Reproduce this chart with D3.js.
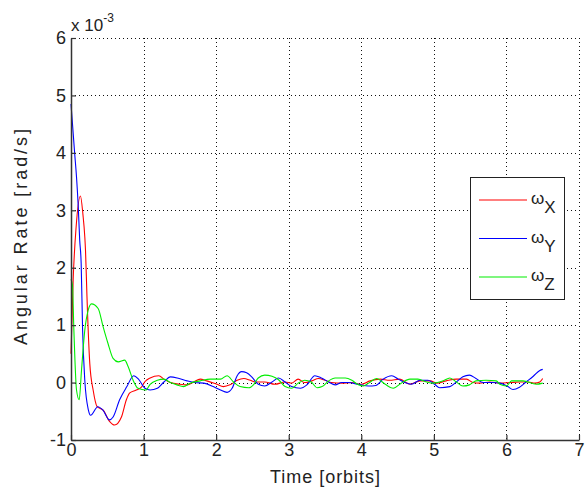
<!DOCTYPE html>
<html><head><meta charset="utf-8">
<script src="https://cdn.jsdelivr.net/npm/d3@7"></script>
<style>body{margin:0;background:#fff}svg{display:block}text{font-family:"Liberation Sans",Arial,sans-serif;fill:#222}</style>
</head><body><svg id="c" width="588" height="487"></svg>
<script>
// time [orbits], angular rate [x1e-3 rad/s]
const seriesNames = ["X","Y","Z"];
const seriesColors = ["#ff0000","#0000ff","#00ee00"];
const xTicks = [0,1,2,3,4,5,6,7];
const yTicks = [-1,0,1,2,3,4,5,6];
const omegaX = [[0,0.5],[0.03,1.8],[0.07,2.7],[0.13,3.25],[0.165,2.92],[0.19,2.54],[0.2,2.3],[0.22,1.5],[0.259,0.33],[0.305,-0.13],[0.36,-0.42],[0.443,-0.48],[0.534,-0.68],[0.6,-0.74],[0.695,-0.6],[0.763,-0.3],[0.81,-0.18],[0.9,-0.13],[0.97,-0.08],[1.015,0.01],[1.09,0.08],[1.21,0.12],[1.28,0.06],[1.37,0],[1.5,-0.03],[1.6,-0.04],[1.69,0.01],[1.78,0.06],[1.87,0.03],[2.01,-0.03],[2.1,-0.07],[2.19,-0.04],[2.29,0.04],[2.38,0.07],[2.47,0.04],[2.54,0.01],[2.67,0.01],[2.81,-0.03],[2.95,0.01],[3.04,-0.01],[3.13,0.06],[3.22,0],[3.32,0.03],[3.41,0.07],[3.5,0.04],[3.59,0],[3.73,-0.01],[3.87,0],[4.0,-0.03],[4.12,0.03],[4.26,0.06],[4.39,0.04],[4.53,0.06],[4.67,-0.03],[4.81,0.03],[4.95,0.03],[5.04,-0.01],[5.17,0.03],[5.31,0.06],[5.45,0.06],[5.54,0],[5.63,-0.01],[5.77,0.01],[5.91,-0.01],[6.05,0],[6.18,0.01],[6.3,0.01],[6.39,-0.01],[6.46,0.01],[6.5,0.07]];
const omegaY = [[0,4.85],[0.03,4.34],[0.05,4.0],[0.076,3.58],[0.1,3.06],[0.12,2.48],[0.14,2.08],[0.16,0.91],[0.19,0.04],[0.24,-0.48],[0.27,-0.57],[0.37,-0.42],[0.44,-0.48],[0.53,-0.65],[0.58,-0.6],[0.67,-0.3],[0.77,-0.07],[0.864,0.12],[0.93,0.06],[1.02,-0.1],[1.09,-0.13],[1.19,-0.1],[1.28,0.01],[1.37,0.1],[1.49,0.07],[1.6,0.03],[1.71,0],[1.83,-0.01],[1.96,-0.07],[2.06,-0.13],[2.15,-0.17],[2.22,-0.1],[2.29,0.12],[2.35,0.19],[2.42,0.17],[2.49,0.1],[2.58,-0.03],[2.67,-0.06],[2.77,0.01],[2.86,0.08],[2.95,0.01],[3.04,-0.07],[3.16,-0.1],[3.25,-0.04],[3.36,0.12],[3.45,0.08],[3.55,0.01],[3.64,-0.04],[3.73,0],[3.82,0],[3.96,-0.03],[4.1,-0.06],[4.2,-0.05],[4.3,0.06],[4.42,0.12],[4.51,0.06],[4.6,0],[4.69,-0.03],[4.81,0.04],[4.92,0.04],[5.01,-0.03],[5.08,-0.09],[5.22,-0.07],[5.31,0.01],[5.4,0.1],[5.49,0.13],[5.58,0.07],[5.68,0],[5.81,0],[5.91,-0.01],[6.02,-0.07],[6.09,-0.12],[6.18,-0.08],[6.27,0.01],[6.37,0.11],[6.46,0.21],[6.5,0.23]];
const omegaZ = [[0,1.8],[0.02,1.7],[0.04,0.9],[0.076,-0.13],[0.113,-0.3],[0.145,0.22],[0.19,0.91],[0.237,1.26],[0.282,1.37],[0.374,1.29],[0.443,0.97],[0.51,0.68],[0.58,0.42],[0.65,0.36],[0.74,0.39],[0.787,0.28],[0.856,0.04],[0.924,-0.1],[1.03,-0.13],[1.09,-0.03],[1.19,0.04],[1.28,0.06],[1.37,0],[1.46,-0.04],[1.55,-0.07],[1.64,-0.01],[1.78,0.03],[1.92,0.06],[2.06,0.06],[2.15,0.12],[2.24,0.01],[2.33,-0.07],[2.45,-0.09],[2.52,-0.03],[2.58,0.08],[2.67,0.13],[2.77,0.11],[2.86,0.05],[2.95,-0.07],[3.04,-0.1],[3.13,-0.01],[3.22,0.04],[3.31,0.01],[3.39,-0.09],[3.46,-0.07],[3.55,0.03],[3.64,0.08],[3.78,0.08],[3.87,0.04],[3.96,-0.04],[4.03,-0.06],[4.1,-0.01],[4.21,0.07],[4.33,-0.03],[4.44,-0.1],[4.55,-0.01],[4.67,0.06],[4.78,0.06],[4.9,0.01],[4.99,-0.01],[5.13,0.03],[5.22,0.08],[5.31,0.01],[5.4,-0.06],[5.49,-0.04],[5.58,0.03],[5.72,0.04],[5.86,0.03],[5.91,-0.03],[6.0,-0.06],[6.07,0.03],[6.23,0.03],[6.41,-0.03],[6.5,-0.01]];
const seriesData = [omegaX, omegaY, omegaZ];

const svg = d3.select("#c");
const m = {l:71, r:579, t:38, b:440};
const x = d3.scaleLinear().domain([0,7]).range([m.l, m.r]);
const y = d3.scaleLinear().domain([-1,6]).range([m.b, m.t]);

// grid
const g = svg.append("g");
g.selectAll(".gx").data(xTicks.slice(1)).enter().append("line")
  .attr("x1",d=>Math.round(x(d))+0.5).attr("x2",d=>Math.round(x(d))+0.5).attr("y1",m.t).attr("y2",m.b)
  .attr("stroke","#111").attr("stroke-dasharray","1,3").attr("stroke-width",1);
g.selectAll(".gy").data(yTicks.slice(1)).enter().append("line")
  .attr("y1",d=>Math.round(y(d))+0.5).attr("y2",d=>Math.round(y(d))+0.5).attr("x1",m.l).attr("x2",m.r)
  .attr("stroke","#111").attr("stroke-dasharray","1,3").attr("stroke-width",1);

// lines
const line = d3.line().x(d=>x(d[0])).y(d=>y(d[1])).curve(d3.curveMonotoneX);
seriesData.forEach((s,i)=>{
  svg.append("path").datum(s).attr("d",line).attr("fill","none")
    .attr("stroke",seriesColors[i]).attr("stroke-width",1.1);
});

// axes
const fmt = d => String(d);
const xAxis = d3.axisBottom(x).tickValues(xTicks).tickFormat(fmt).tickSizeInner(-5).tickSizeOuter(0).tickPadding(3);
const yAxis = d3.axisLeft(y).tickValues(yTicks).tickFormat(fmt).tickSizeInner(-5).tickSizeOuter(0).tickPadding(5);
const gx = svg.append("g").attr("transform",`translate(0,${m.b})`).call(xAxis);
const gy = svg.append("g").attr("transform",`translate(${m.l},0)`).call(yAxis);
[gx,gy].forEach(a=>{
  a.select(".domain").attr("stroke","#333").attr("stroke-width",1.5);
  a.selectAll(".tick line").attr("stroke","#333").attr("stroke-width",1.2);
  a.selectAll(".tick text").style("font-size","18px").style("font-family","Liberation Sans, Arial, sans-serif").attr("fill","#222");
});

// exponent
const ex = svg.append("text").attr("x",71).attr("y",31).style("font-size","17px");
ex.append("tspan").text("x 10");
ex.append("tspan").attr("dy",-9).style("font-size","12px").text("-3");

// axis labels
svg.append("text").attr("x",(m.l+m.r)/2).attr("y",483).attr("text-anchor","middle")
  .attr("textLength",110).attr("lengthAdjust","spacing")
  .style("font-size","18px").text("Time [orbits]");
svg.append("text").attr("transform",`translate(27,${(m.t+m.b)/2 - 2}) rotate(-90)`).attr("text-anchor","middle")
  .attr("textLength",216).attr("lengthAdjust","spacing")
  .style("font-size","18px").text("Angular Rate [rad/s]");

// legend
const lg = svg.append("g");
lg.append("rect").attr("x",470.5).attr("y",177.5).attr("width",94).attr("height",122)
  .attr("fill","#fff").attr("stroke","#222").attr("stroke-width",1);
seriesNames.forEach((n,i)=>{
  const yy = 200 + i*38.5;
  lg.append("line").attr("x1",479).attr("x2",527).attr("y1",yy).attr("y2",yy)
    .attr("stroke",seriesColors[i]).attr("stroke-width",1.1);
  const t = lg.append("text").attr("x",531).attr("y",yy+4).style("font-size","17px");
  t.append("tspan").text("ω");
  t.append("tspan").attr("dy",9).style("font-size","17px").text(n);
});
</script></body></html>
